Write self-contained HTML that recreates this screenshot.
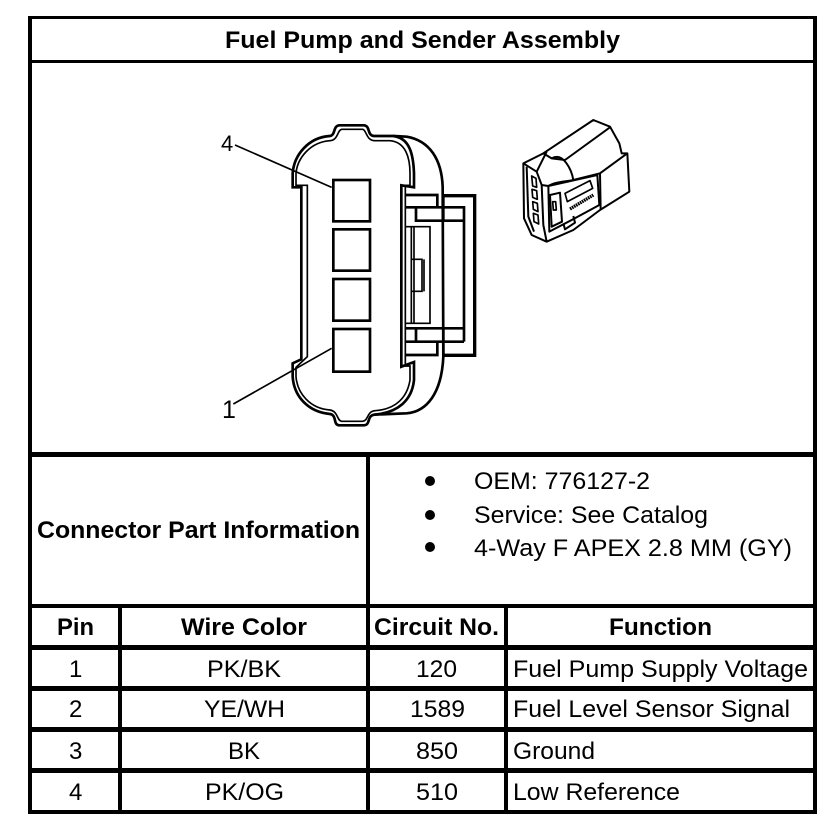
<!DOCTYPE html>
<html>
<head>
<meta charset="utf-8">
<style>
html,body{margin:0;padding:0;background:#fff;}
svg{display:block;}
text{font-family:"Liberation Sans",Arial,sans-serif;fill:#000;}
.b{font-weight:bold;font-size:24px;}
.r{font-size:24px;}
</style>
</head>
<body>
<svg width="832" height="840" viewBox="0 0 832 840" xmlns="http://www.w3.org/2000/svg">
<rect width="832" height="840" fill="#fff"/>

<!-- table grid -->
<g fill="#000" shape-rendering="crispEdges">
<rect x="28" y="16" width="789" height="3"/>
<rect x="28" y="60" width="789" height="3"/>
<rect x="28" y="452" width="789" height="5"/>
<rect x="28" y="604" width="789" height="4"/>
<rect x="28" y="645" width="789" height="5"/>
<rect x="28" y="686" width="789" height="5"/>
<rect x="28" y="727" width="789" height="5"/>
<rect x="28" y="768" width="789" height="5"/>
<rect x="28" y="810" width="789" height="4"/>
<rect x="28" y="16" width="4" height="798"/>
<rect x="813" y="16" width="4" height="798"/>
<rect x="366" y="452" width="4" height="362"/>
<rect x="118" y="604" width="4" height="210"/>
<rect x="504" y="604" width="4" height="210"/>
</g>

<!-- text -->
<text class="b" x="225" y="48" textLength="395" lengthAdjust="spacingAndGlyphs">Fuel Pump and Sender Assembly</text>
<text class="b" x="37" y="538" textLength="323" lengthAdjust="spacingAndGlyphs">Connector Part Information</text>
<text class="r" x="474" y="489" textLength="176" lengthAdjust="spacingAndGlyphs">OEM: 776127-2</text>
<text class="r" x="474" y="523" textLength="234" lengthAdjust="spacingAndGlyphs">Service: See Catalog</text>
<text class="r" x="474" y="556" textLength="318" lengthAdjust="spacingAndGlyphs">4-Way F APEX 2.8 MM (GY)</text>
<circle cx="430" cy="481" r="5"/>
<circle cx="430" cy="515" r="5"/>
<circle cx="430" cy="547" r="5"/>

<text class="b" x="57" y="635" textLength="37" lengthAdjust="spacingAndGlyphs">Pin</text>
<text class="b" x="181" y="635" textLength="126" lengthAdjust="spacingAndGlyphs">Wire Color</text>
<text class="b" x="374" y="635" textLength="125" lengthAdjust="spacingAndGlyphs">Circuit No.</text>
<text class="b" x="609" y="635" textLength="103" lengthAdjust="spacingAndGlyphs">Function</text>

<text class="r" x="69" y="677">1</text>
<text class="r" x="207" y="677" textLength="74" lengthAdjust="spacingAndGlyphs">PK/BK</text>
<text class="r" x="416" y="677" textLength="41" lengthAdjust="spacingAndGlyphs">120</text>
<text class="r" x="513" y="677" textLength="295" lengthAdjust="spacingAndGlyphs">Fuel Pump Supply Voltage</text>

<text class="r" x="69" y="717">2</text>
<text class="r" x="204" y="717" textLength="81" lengthAdjust="spacingAndGlyphs">YE/WH</text>
<text class="r" x="410" y="717" textLength="55" lengthAdjust="spacingAndGlyphs">1589</text>
<text class="r" x="513" y="717" textLength="277" lengthAdjust="spacingAndGlyphs">Fuel Level Sensor Signal</text>

<text class="r" x="69" y="759">3</text>
<text class="r" x="228" y="759" textLength="32" lengthAdjust="spacingAndGlyphs">BK</text>
<text class="r" x="416" y="759" textLength="42" lengthAdjust="spacingAndGlyphs">850</text>
<text class="r" x="513" y="759" textLength="82" lengthAdjust="spacingAndGlyphs">Ground</text>

<text class="r" x="69" y="800">4</text>
<text class="r" x="205" y="800" textLength="79" lengthAdjust="spacingAndGlyphs">PK/OG</text>
<text class="r" x="416" y="800" textLength="42" lengthAdjust="spacingAndGlyphs">510</text>
<text class="r" x="513" y="800" textLength="167" lengthAdjust="spacingAndGlyphs">Low Reference</text>

<!-- main connector, authored in 3x coordinates -->
<g transform="translate(210 110) scale(0.33333)" fill="none" stroke="#000" stroke-width="8">
  <!-- outer body -->
  <path d="M274,232 L248,232 L248,190 C252,135 295,82 360,78 C378,74 368,48 388,46 L462,46 C482,48 470,76 492,78 L550,78 C600,84 610,135 612,190 L612,232 L574,226 L574,770 L612,756 L612,810 C606,870 565,908 492,914 C470,918 482,945 462,946 L388,946 C368,945 382,916 360,912 C295,906 252,860 248,800 L248,760 L274,748 Z"/>
  <!-- inner body -->
  <path stroke-width="5" d="M292,226 L258,226 L258,190 C262,145 300,96 360,92 C385,90 382,60 395,58 L458,58 C470,60 468,92 495,92 L540,92 C588,96 600,145 600,190 L600,226 L586,226 L586,768 L600,768 L600,810 C592,860 560,898 495,902 C470,904 476,932 458,934 L395,934 C380,932 385,904 360,900 C300,896 262,850 258,800 L258,772 L292,740 Z"/>
  <!-- rear shell -->
  <path d="M550,78 L590,80 C660,92 695,150 698,230 L700,740 C695,850 650,905 590,910 L492,914"/>
  <!-- latch bracket -->
  <path stroke-width="10" d="M700,257 L794,257 L794,736 L700,736"/>
  <path d="M586,255 L682,255 L682,292 M586,292 L762,292 L762,695 M586,655 L762,655 M586,695 L762,695 M586,735 L682,735 L682,695 M618,292 L618,332 L762,332 M618,695 L618,655 M700,257 L700,332 M700,655 L700,736"/>
  <path stroke-width="5" d="M586,350 L660,350 L660,640 L586,640 M612,350 L612,640 M604,350 L604,640"/>
  <path stroke-width="5" d="M606,448 L636,448 L636,544 L606,544 M642,448 L642,544"/>
  <!-- pins -->
  <rect x="370" y="210" width="110" height="124"/>
  <rect x="370" y="358" width="110" height="124"/>
  <rect x="370" y="507" width="110" height="125"/>
  <rect x="370" y="657" width="110" height="128"/>
  <!-- leaders -->
  <path stroke-width="5" d="M75,105 L365,232 M70,882 L365,715"/>
</g>
<text x="221" y="151" style="font-size:22px">4</text>
<text x="222" y="418" style="font-size:25px">1</text>

<!-- small perspective connector, authored in 3x coordinates -->
<g transform="translate(510 110) scale(0.33333)" fill="none" stroke="#000" stroke-width="6" stroke-linejoin="round">
  <path d="M40,160 L100,130 L250,30 L300,50 L328,100 L335,130 L352,130 L358,245 L270,300 L190,360 L110,395 L65,375 L42,325 Z"/>
  <path d="M40,160 L80,185 L95,225 L100,345 L110,395"/>
  <path d="M80,185 L110,125 M100,130 L125,145 L165,150 L300,52"/>
  <path d="M125,145 C160,125 185,180 190,210 C170,215 135,215 115,228 L95,225"/>
  <path d="M190,210 L270,190 L352,130 M270,190 L272,300"/>
  <path d="M115,228 L262,195 L268,285 L185,330 L118,365 Z"/>
  <path d="M120,255 L150,248 L156,335 L125,350 Z"/>
  <path stroke-width="5" d="M165,250 L240,212 L248,235 L172,275 Z"/>
  <path stroke-width="10" stroke-dasharray="5 2" d="M180,297 L250,255"/>
  <path stroke-width="5" d="M128,275 L137,275 L139,300 L130,300 Z"/>
  <path stroke-width="5" d="M65,198 L78,205 L80,232 L68,228 Z M66,238 L80,242 L82,268 L68,262 Z M68,275 L82,280 L84,305 L70,298 Z M70,310 L84,315 L86,342 L72,335 Z"/>
  <path d="M50,170 L55,320 L72,365 M160,340 L165,358 L195,338 L190,318"/>
</g>
</svg>
</body>
</html>
